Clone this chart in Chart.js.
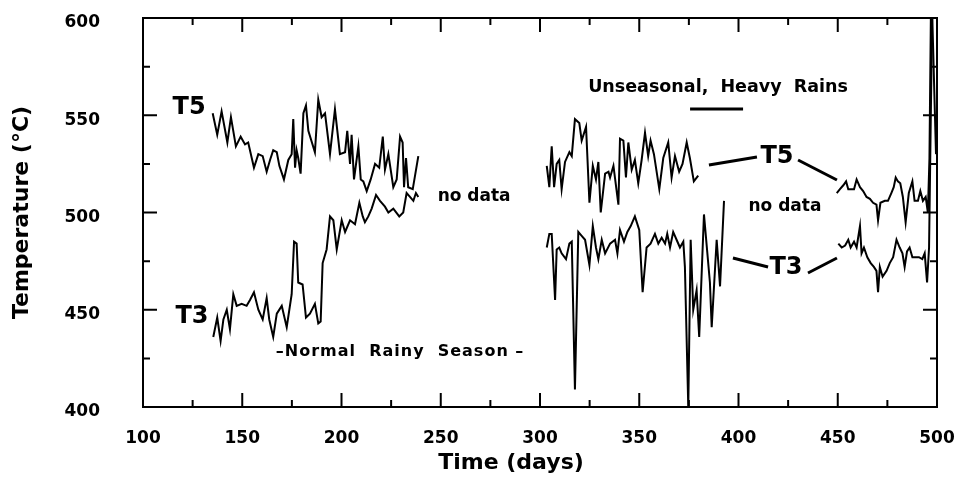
<!DOCTYPE html>
<html><head><meta charset="utf-8">
<script src="https://cdn.jsdelivr.net/npm/chart.js@4.4.1/dist/chart.umd.min.js"></script>
<style>html,body{margin:0;padding:0;background:#fff}</style>
</head><body>
<canvas id="c" width="960" height="478" style="width:960px;height:478px"></canvas>
<script>
// ---- Data ----
const xTickValues = [100, 150, 200, 250, 300, 350, 400, 450, 500];
const yTickValues = [400, 450, 500, 550, 600];

const t5Days = [
  135.1,137.4,139.6,142.5,144.3,146.8,149.2,151.4,153,155.9,158.1,160.3,162.3,164,165.6,167.4,168.7,171,173.2,174.9,
  175.7,176.6,177.4,178.2,179.4,180.8,182.1,183.3,186.6,188.3,190,191.7,194.2,196.7,199.2,201.8,202.9,204.3,205.1,206.3,
  208.5,209.7,211,212.7,214.7,216.9,219,220.8,221.9,223.6,226.1,227.8,229.5,230.8,231.5,232.5,233.6,235.9,238.7,
  270,
  303.4,304.7,305.9,307.1,308.4,309.7,310.9,312.6,314.8,316,317.6,319.8,321,323.2,324.9,326.6,328.2,329.4,330.6,332.8,
  334.5,335.3,337,339.5,340.3,342,343.3,344.5,346.2,347.8,349.5,351.2,352.9,354.5,355.7,357.4,360.1,362.1,364.6,366.3,
  368,370.1,371.8,373.9,375.5,377.5,379.7,
  420,
  449.5,451.1,452.8,454.2,455.3,457,458.2,459.5,461.2,462.8,464.5,466.2,467.8,469.5,470.3,471.5,473.7,475.3,477,478.2,
  479.2,480.3,481.5,482.8,484.2,485.8,487.6,488.7,490.4,491.6,492.9,494.3,495.4,496.2,497.1,499.5
];
const t5Temps = [
  551,540,552,536,549,534,539,535,536,523,530,529,521,527,532,531,524,517,527,530,
  548,523,532,528,520,551,555,542,531,558,549,551,530,553,530,531,542,525,540,517,
  534,517,516,511,517,525,523,539,522,530,513,517,539,536,513,528,513,512,529,
  null,
  524,513,534,513,525,527,512,526,531,529,548,546,537,544,505,524,517,526,500,520,
  521,518,524,504,538,537,518,536,522,527,515,527,541,529,537,530,512,528,536,518,
  529,521,525,536,528,516,519,
  null,
  510,512,514,516,512,512,512,517,513,511,508,507,505,504,496,505,506,506,510,513,
  518,516,515,508,495,510,516,506,506,511,506,508,500,528,620,530
];

const t3Days = [
  135.4,137.4,139.1,140.5,142.2,143.8,145.5,147.2,149.7,152.2,153.9,155.9,158.1,160.3,162.3,163.6,165.6,167.4,169.9,172.4,
  174.9,176.1,177.4,178.2,180.4,182.1,184.1,186.6,188.3,189.5,190.5,192.5,194.2,195.9,197.6,200.1,201.8,204.3,206.8,209,
  210.7,211.8,213.5,215.2,217.4,219.4,221.9,223.6,226.1,229.1,231.1,232.8,234.5,236.2,237.5,238.7,
  270,
  303.4,304.7,305.9,307.6,308.4,309.7,310.9,313.1,314.8,316,317.6,319.3,321,322.7,324.9,326.6,328.2,329.4,331.1,332.8,
  335.3,337.8,339,340.3,342.3,344,345.7,347.8,350,351.7,353.7,355.7,357.9,359.6,361.3,363,364.1,365.5,367.1,368.8,
  370.5,372.2,373,374.7,375.9,377.2,378.9,380.2,382.6,385.6,386.5,389,390.7,392.7,
  420,
  450.3,452,453.7,455.3,456.5,458.2,459.5,461.2,462,463.2,464.9,466.6,468.2,469.5,470.3,471.2,472.6,474.6,476.2,477.9,
  479.6,481.2,482.6,483.7,484.9,486.2,487.6,489.3,490.9,492.6,493.8,495,496,497.8
];
const t3Temps = [
  436,446,434,445,450,440,458,452,453,452,455,459,450,445,456,445,436,448,452,441,
  458,485,484,464,463,446,448,453,443,444,474,481,498,496,481,496,490,496,494,505,
  498,495,498,502,509,506,503,500,502,498,500,510,508,506,510,508,
  null,
  482,489,489,455,481,482,479,476,484,485,409,490,488,486,473,493,482,476,486,479,
  484,486,479,491,485,490,493,498,491,459,482,484,489,484,487,484,489,482,490,486,
  482,485,472,400,486,450,460,436,499,464,441,486,462,506,
  null,
  484,482,483,486,482,485,482,493,479,482,477,474,472,470,459,472,467,470,474,477,
  486,482,479,472,480,482,477,477,477,476,479,464,482,620
];

const toPoints = (xs, ys) => xs.map((x, i) => ({ x: x, y: ys[i] }));

const FONT = '"DejaVu Sans", "Liberation Sans", Arial, sans-serif';

// ---- Annotations (positions in data units) ----
const annotations = [
  { text: 'T5', x: 123.2, y: 553.7, size: 24, sp: 0 },
  { text: 'T3', x: 124.7, y: 446.3, size: 24, sp: 0 },
  { text: 'no data', x: 266.8, y: 508, size: 17, sp: 0 },
  { text: '\u2013Normal  Rainy  Season \u2013', x: 229.5, y: 428.3, size: 16, sp: 1 },
  { text: 'Unseasonal,  Heavy  Rains', x: 389.7, y: 564.5, size: 17.5, sp: 0 },
  { text: 'T5', x: 419.4, y: 528.5, size: 24, sp: 0 },
  { text: 'no data', x: 423.4, y: 502.8, size: 17, sp: 0 },
  { text: 'T3', x: 423.9, y: 471.5, size: 24, sp: 0 }
];
const annoLines = [
  [375.6, 553.2, 402.3, 553.2],
  [385.1, 524.4, 409.3, 528.5],
  [430.0, 527.0, 449.6, 516.7],
  [397.2, 476.6, 414.9, 472.0],
  [435.0, 468.9, 449.6, 476.6]
];

const framePlugin = {
  id: 'frameAndAnnotations',
  afterDatasetsDraw(chart) {
    const { ctx, chartArea: a, scales: { x, y } } = chart;
    ctx.save();
    ctx.strokeStyle = '#000';
    ctx.lineWidth = 2;
    ctx.lineCap = 'butt';
    ctx.strokeRect(a.left, a.top, a.right - a.left, a.bottom - a.top);
    // inward ticks
    x.ticks.forEach(t => {
      const px = x.getPixelForValue(t.value);
      const len = (t.value % 50 === 0) ? 14 : 7;
      ctx.beginPath();
      ctx.moveTo(px, a.bottom); ctx.lineTo(px, a.bottom - len);
      ctx.moveTo(px, a.top); ctx.lineTo(px, a.top + len);
      ctx.stroke();
    });
    y.ticks.forEach(t => {
      const py = y.getPixelForValue(t.value);
      const len = (t.value % 50 === 0) ? 14 : 7;
      ctx.beginPath();
      ctx.moveTo(a.left, py); ctx.lineTo(a.left + len, py);
      ctx.moveTo(a.right, py); ctx.lineTo(a.right - len, py);
      ctx.stroke();
    });
    // annotation lines
    ctx.lineWidth = 3;
    annoLines.forEach(l => {
      ctx.beginPath();
      ctx.moveTo(x.getPixelForValue(l[0]), y.getPixelForValue(l[1]));
      ctx.lineTo(x.getPixelForValue(l[2]), y.getPixelForValue(l[3]));
      ctx.stroke();
    });
    // annotation texts
    ctx.fillStyle = '#000';
    ctx.textAlign = 'center';
    ctx.textBaseline = 'middle';
    annotations.forEach(an => {
      ctx.font = 'bold ' + an.size + 'px ' + FONT;
      ctx.letterSpacing = an.sp + 'px';
      ctx.fillText(an.text, x.getPixelForValue(an.x), y.getPixelForValue(an.y));
    });
    ctx.letterSpacing = '0px';
    // x-axis title
    ctx.font = 'bold 22px ' + FONT;
    ctx.fillText('Time (days)', x.getPixelForValue(285.4), 463);
    ctx.restore();
  }
};

const zeroPad = s => { s.paddingTop = 0; s.paddingBottom = 0; s.paddingLeft = 0; s.paddingRight = 0; };

new Chart(document.getElementById('c'), {
  type: 'line',
  data: {
    datasets: [
      { label: 'T5', data: toPoints(t5Days, t5Temps), borderColor: '#000', borderWidth: 2, pointRadius: 0, tension: 0, spanGaps: false, fill: false },
      { label: 'T3', data: toPoints(t3Days, t3Temps), borderColor: '#000', borderWidth: 2, pointRadius: 0, tension: 0, spanGaps: false, fill: false }
    ]
  },
  options: {
    responsive: false,
    animation: false,
    devicePixelRatio: 1,
    layout: { padding: { left: 0, top: 18, right: 23, bottom: 0 } },
    plugins: { legend: { display: false }, tooltip: { enabled: false } },
    scales: {
      x: {
        type: 'linear', min: 100, max: 500,
        grid: { display: false }, border: { display: false },
        afterFit: s => { s.height = 71; zeroPad(s); },
        ticks: {
          stepSize: 25, autoSkip: false, maxRotation: 0, padding: 13, color: '#000',
          font: { family: FONT, weight: 'bold', size: 17 },
          callback: v => xTickValues.includes(v) ? String(v) : ''
        }
      },
      y: {
        type: 'linear', min: 400, max: 600,
        grid: { display: false }, border: { display: false },
        afterFit: s => { s.width = 143; zeroPad(s); },
        title: { display: true, text: 'Temperature (°C)', color: '#000', font: { family: FONT, weight: 'bold', size: 22 }, padding: { top: 9, bottom: 0 } },
        ticks: {
          stepSize: 25, autoSkip: false, padding: 35, labelOffset: 5, color: '#000',
          font: { family: FONT, weight: 'bold', size: 17 },
          callback: v => yTickValues.includes(v) ? String(v) : ''
        }
      }
    }
  },
  plugins: [framePlugin]
});
</script>
</body></html>
